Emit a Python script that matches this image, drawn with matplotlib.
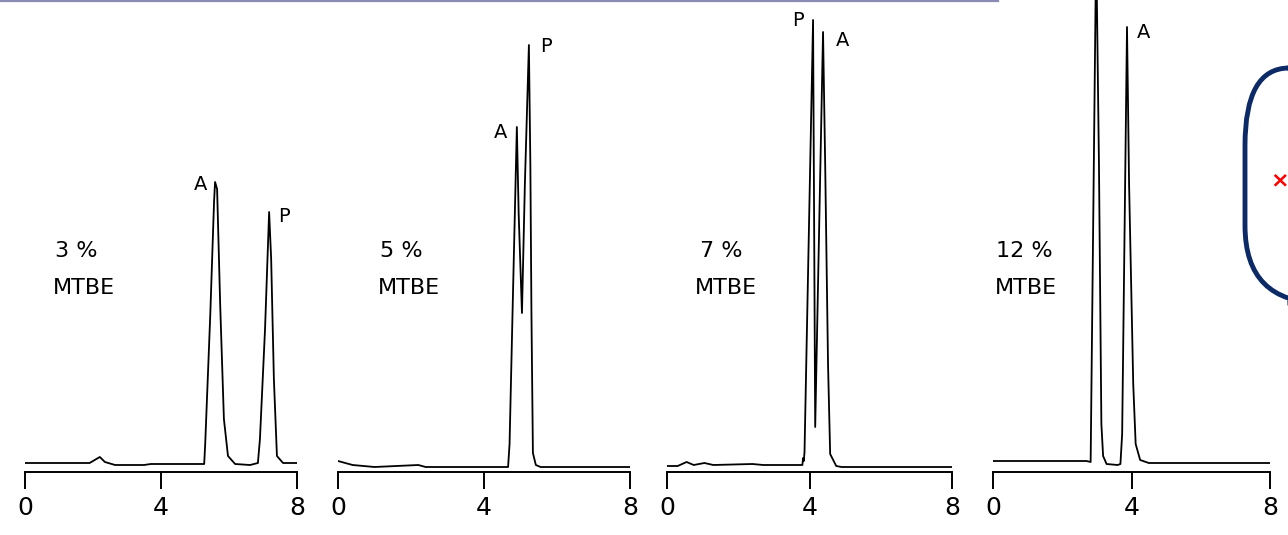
import matplotlib.pyplot as plt
from matplotlib.patches import FancyBboxPatch

# retention time (min) and detector signal
t_3 = [0, 1.9, 2.2, 2.35, 2.65, 3.5, 3.7, 5.27, 5.30, 5.45, 5.56, 5.59, 5.65, 5.74,
       5.85, 5.97, 6.18, 6.62, 6.85, 6.91, 7.06, 7.18, 7.24, 7.32, 7.41, 7.59, 8.0]
s_3 = [1, 1, 7, 2, -1, -1, 0, 0, 20, 150, 262, 282, 275, 160,
       45, 8, 0, -1, 1, 25, 135, 252, 205, 85, 8, 1, 1]

t_5 = [0, 0.4, 1.0, 2.2, 2.4, 4.66, 4.70, 4.80, 4.90, 4.95, 5.04, 5.12, 5.23,
       5.27, 5.30, 5.34, 5.42, 5.55, 8.0]
s_5 = [3, -1, -3, -1, -3, -3, 20, 180, 337, 250, 151, 280, 419,
       300, 150, 11, -1, -3, -3]

t_7 = [0, 0.3, 0.55, 0.75, 1.05, 1.3, 2.4, 2.7, 3.80, 3.82, 3.84, 3.86, 4.10,
       4.16, 4.38, 4.44, 4.52, 4.58, 4.75, 4.9, 8.0]
s_7 = [-2, -2, 2, -1, 1, -1, 0, -1, -1, 6, 3, 12, 444,
       37, 432, 300, 100, 10, -2, -3, -3]

t_12 = [0, 2.7, 2.82, 2.98, 3.06, 3.13, 3.18, 3.28, 3.6, 3.68, 3.73, 3.87,
        3.93, 4.05, 4.12, 4.25, 4.5, 8.0]
s_12 = [3, 3, 2, 520, 300, 40, 8, 0, -1, 0, 30, 437,
        280, 80, 20, 4, 1, 1]

traces = [(t_3, s_3), (t_5, s_5), (t_7, s_7), (t_12, s_12)]
conc = ['3 %', '5 %', '7 %', '12 %']

# peak labels: (text, time, signal)
peak_labels = [
    [('A', 5.15, 279), ('P', 7.62, 248)],
    [('A', 4.44, 332), ('P', 5.70, 417)],
    [('P', 3.68, 444), ('A', 4.92, 424)],
    [('A', 4.34, 432)],
]
conc_pos = [(0.88, 0.82), (1.15, 1.10), (0.93, 0.79), (0.09, 0.06)]

W, H = 1288, 535
fig = plt.figure(figsize=(W / 100, H / 100), dpi=100)

# panel x positions in pixels (t=0 and t=8)
px0 = [25, 338, 667, 993]
px8 = [297, 630, 952, 1270]
axis_y = 472

for i in range(4):
    ax = fig.add_axes([px0[i] / W, (H - axis_y) / H, (px8[i] - px0[i]) / W, axis_y / H])
    ax.patch.set_alpha(0)
    t, s = traces[i]
    ax.plot(t, s, color='black', lw=1.3)
    ax.set_xlim(0, 8)
    ax.set_ylim(-8, 464)
    for side in ['top', 'left', 'right']:
        ax.spines[side].set_visible(False)
    ax.spines['bottom'].set_linewidth(1.4)
    ax.set_yticks([])
    ax.set_xticks([0, 4, 8])
    ax.set_xticklabels(['0', '4', '8'])
    ax.tick_params(axis='x', direction='out', length=12, width=1.4, pad=5, labelsize=18)
    for name, tx, ty in peak_labels[i]:
        ax.text(tx, ty, name, ha='center', va='center', fontsize=14)
    ax.text(conc_pos[i][0], 213, conc[i], ha='left', va='center', fontsize=16)
    ax.text(conc_pos[i][1], 176, 'MTBE', ha='left', va='center', fontsize=16)

# overlay remnants: purple line and rounded box
fig.add_artist(plt.Line2D([0, 998 / W], [1 - 1 / H, 1 - 1 / H], color='#8a8ab4', lw=1.6))
box = FancyBboxPatch((1245 / W, (H - 303) / H), 120 / W, 235 / H,
                     boxstyle='round,pad=0,rounding_size=0.06',
                     transform=fig.transFigure, fill=False, ec='#0b2a66', lw=3.5,
                     mutation_aspect=W / H)
fig.add_artist(box)
fig.text(1280 / W, 1 - 180 / H, '×', color='red', fontsize=16, fontweight='bold',
         ha='center', va='center')

fig.savefig('out.png', dpi=100)
